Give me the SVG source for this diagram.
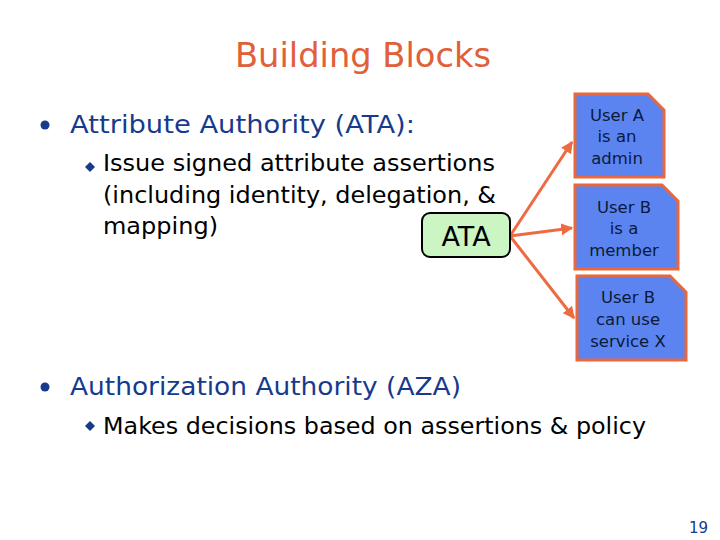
<svg xmlns="http://www.w3.org/2000/svg" width="720" height="540" viewBox="0 0 720 540">
<defs>
<style>
.t{font-family:"DejaVu Sans",Verdana,sans-serif}
.h{fill:#163a8c;font-size:24px}
.s{fill:#000;font-size:23px}
.n{fill:#0a1a3a;font-size:16.5px;text-anchor:middle}
.note{fill:#5b84f0;stroke:#e8673c;stroke-width:3}
.c{stroke:#ee6a40;stroke-width:3;fill:none;marker-end:url(#a)}
</style>
<marker id="a" viewBox="0 0 10 10" refX="9" refY="5" markerWidth="4" markerHeight="4" orient="auto"><path d="M0,0L10,5L0,10z" fill="#ee6a40"/></marker>
</defs>
<rect width="720" height="540" fill="#fff"/>
<text class="t" x="363" y="67" text-anchor="middle" font-size="33" fill="#e0603a" textLength="256" lengthAdjust="spacingAndGlyphs">Building Blocks</text>
<circle cx="45" cy="125" r="4.5" fill="#163a8c"/>
<text class="t h" x="70" y="133" textLength="345" lengthAdjust="spacingAndGlyphs">Attribute Authority (ATA):</text>
<path d="M85,167l5,-5l5,5l-5,5z" fill="#163a8c"/>
<text class="t s" x="103" y="171" textLength="392" lengthAdjust="spacingAndGlyphs">Issue signed attribute assertions</text>
<text class="t s" x="103" y="203" textLength="393" lengthAdjust="spacingAndGlyphs">(including identity, delegation, &amp;</text>
<text class="t s" x="103" y="234" textLength="115" lengthAdjust="spacingAndGlyphs">mapping)</text>
<circle cx="45" cy="387" r="4.5" fill="#163a8c"/>
<text class="t h" x="70" y="395" textLength="391" lengthAdjust="spacingAndGlyphs">Authorization Authority (AZA)</text>
<path d="M85,426l5,-5l5,5l-5,5z" fill="#163a8c"/>
<text class="t s" x="103" y="434" textLength="543" lengthAdjust="spacingAndGlyphs">Makes decisions based on assertions &amp; policy</text>
<text class="t" x="708" y="533" text-anchor="end" font-size="15" fill="#163a8c">19</text>
<g id="connectors">
<path class="c" d="M510,236L572,142"/>
<path class="c" d="M510,236L572,228"/>
<path class="c" d="M510,236L574,318"/>
</g>
<g id="ata"><rect x="422" y="213" width="88" height="44" rx="8" fill="#ccf5c4" stroke="#000" stroke-width="2"/>
<text class="t" x="466" y="246" text-anchor="middle" font-size="27" fill="#000">ATA</text></g>
<g id="n1"><path class="note" d="M575,94H648L664,110V177H575Z"/>
<text class="t n" x="617" y="121">User A</text><text class="t n" x="617" y="142">is an</text><text class="t n" x="617" y="164">admin</text></g>
<g id="n2"><path class="note" d="M575,185H662L678,201V269H575Z"/>
<text class="t n" x="624" y="213">User B</text><text class="t n" x="624" y="234">is a</text><text class="t n" x="624" y="256">member</text></g>
<g id="n3"><path class="note" d="M577,276H670L686,292V360H577Z"/>
<text class="t n" x="628" y="303">User B</text><text class="t n" x="628" y="325">can use</text><text class="t n" x="628" y="347">service X</text></g>
</svg>
